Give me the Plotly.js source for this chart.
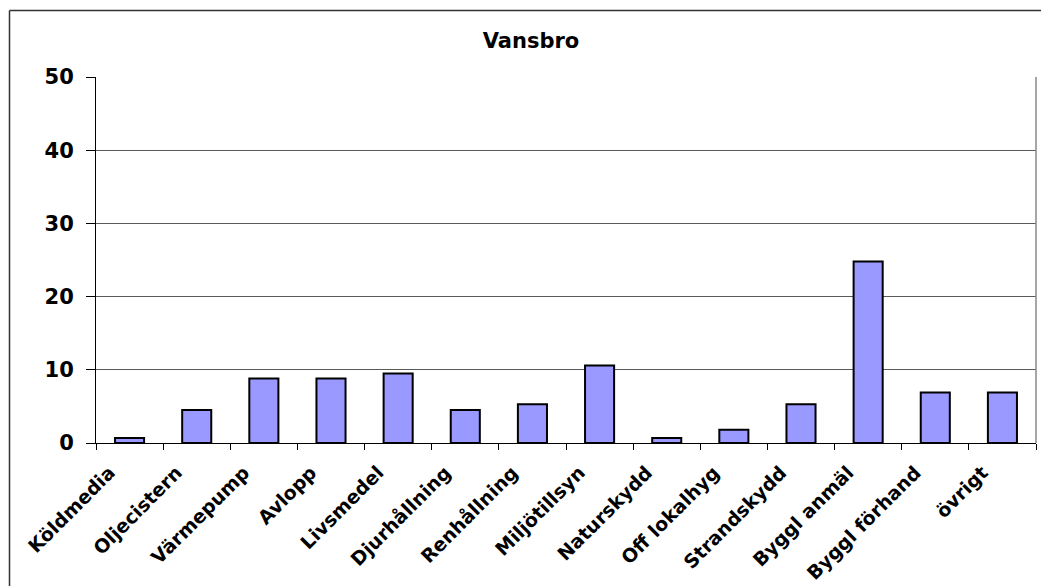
<!DOCTYPE html>
<html>
<head>
<meta charset="utf-8">
<script src="https://cdn.plot.ly/plotly-3.0.1.min.js"></script>
<style>
html,body{margin:0;padding:0;background:#fff;}
#chart{width:1041px;height:586px;}
</style>
</head>
<body>
<div id="chart"></div>
<script>
const categories = ["Köldmedia","Oljecistern","Värmepump","Avlopp","Livsmedel","Djurhållning","Renhållning","Miljötillsyn","Naturskydd","Off lokalhyg","Strandskydd","Byggl anmäl","Byggl förhand","övrigt"];
const values = [0.7, 4.5, 8.8, 8.8, 9.5, 4.5, 5.3, 10.6, 0.7, 1.8, 5.3, 24.8, 6.9, 6.9];
const yTicks = [0, 10, 20, 30, 40, 50];
const chartTitle = "Vansbro";

const W = 1041, H = 586;
const L = 96, R = 1036, T = 77, B = 443;
const px = x => (x - L) / (R - L);
const py = y => (B - y) / (B - T);

const fontFam = "DejaVu Sans, Arial, sans-serif";

const trace = {
  type: "bar",
  x: categories,
  y: values,
  marker: {color: "#9999FF", line: {color: "#000000", width: 2}},
  hoverinfo: "x+y"
};

const layout = {
  width: W, height: H,
  margin: {l: L, r: W - R, t: T, b: H - B, pad: 0},
  paper_bgcolor: "#ffffff",
  plot_bgcolor: "#ffffff",
  showlegend: false,
  bargap: 0.567,
  title: {
    text: chartTitle,
    font: {family: fontFam, size: 21, color: "#000", weight: "bold"},
    x: 531 / W, xref: "container", xanchor: "center",
    y: 1 - 41 / H, yref: "container", yanchor: "middle"
  },
  xaxis: {
    type: "category",
    tickangle: -45,
    tickfont: {family: fontFam, size: 19, color: "#000", weight: "bold"},
    ticks: "outside", tickson: "boundaries", ticklen: 6, tickcolor: "#000", tickwidth: 1,
    ticklabelshift: -20, ticklabelstandoff: 10,
    showline: true, linecolor: "#000", linewidth: 1,
    showgrid: false, zeroline: false, automargin: false
  },
  yaxis: {
    range: [0, 50],
    tickvals: yTicks,
    ticktext: yTicks.map(String),
    tickfont: {family: fontFam, size: 21, color: "#000", weight: "bold"},
    ticks: "outside", ticklen: 9, tickcolor: "#000", tickwidth: 1,
    ticklabelstandoff: 8,
    showline: true, linecolor: "#000", linewidth: 1,
    showgrid: true, gridcolor: "#5a5a5a", gridwidth: 1,
    zeroline: false, automargin: false
  },
  shapes: [
    {type: "line", xref: "paper", yref: "paper", x0: 1, x1: 1, y0: 0, y1: 1,
     line: {color: "#888", width: 1.5}},
    {type: "line", xref: "paper", yref: "paper", x0: px(9.5), x1: px(1045), y0: py(10.5), y1: py(10.5),
     line: {color: "#333", width: 1.5}},
    {type: "line", xref: "paper", yref: "paper", x0: px(9.5), x1: px(9.5), y0: py(10.5), y1: py(590),
     line: {color: "#333", width: 1.5}}
  ]
};

Plotly.newPlot("chart", [trace], layout, {displayModeBar: false, staticPlot: true});
</script>
</body>
</html>
